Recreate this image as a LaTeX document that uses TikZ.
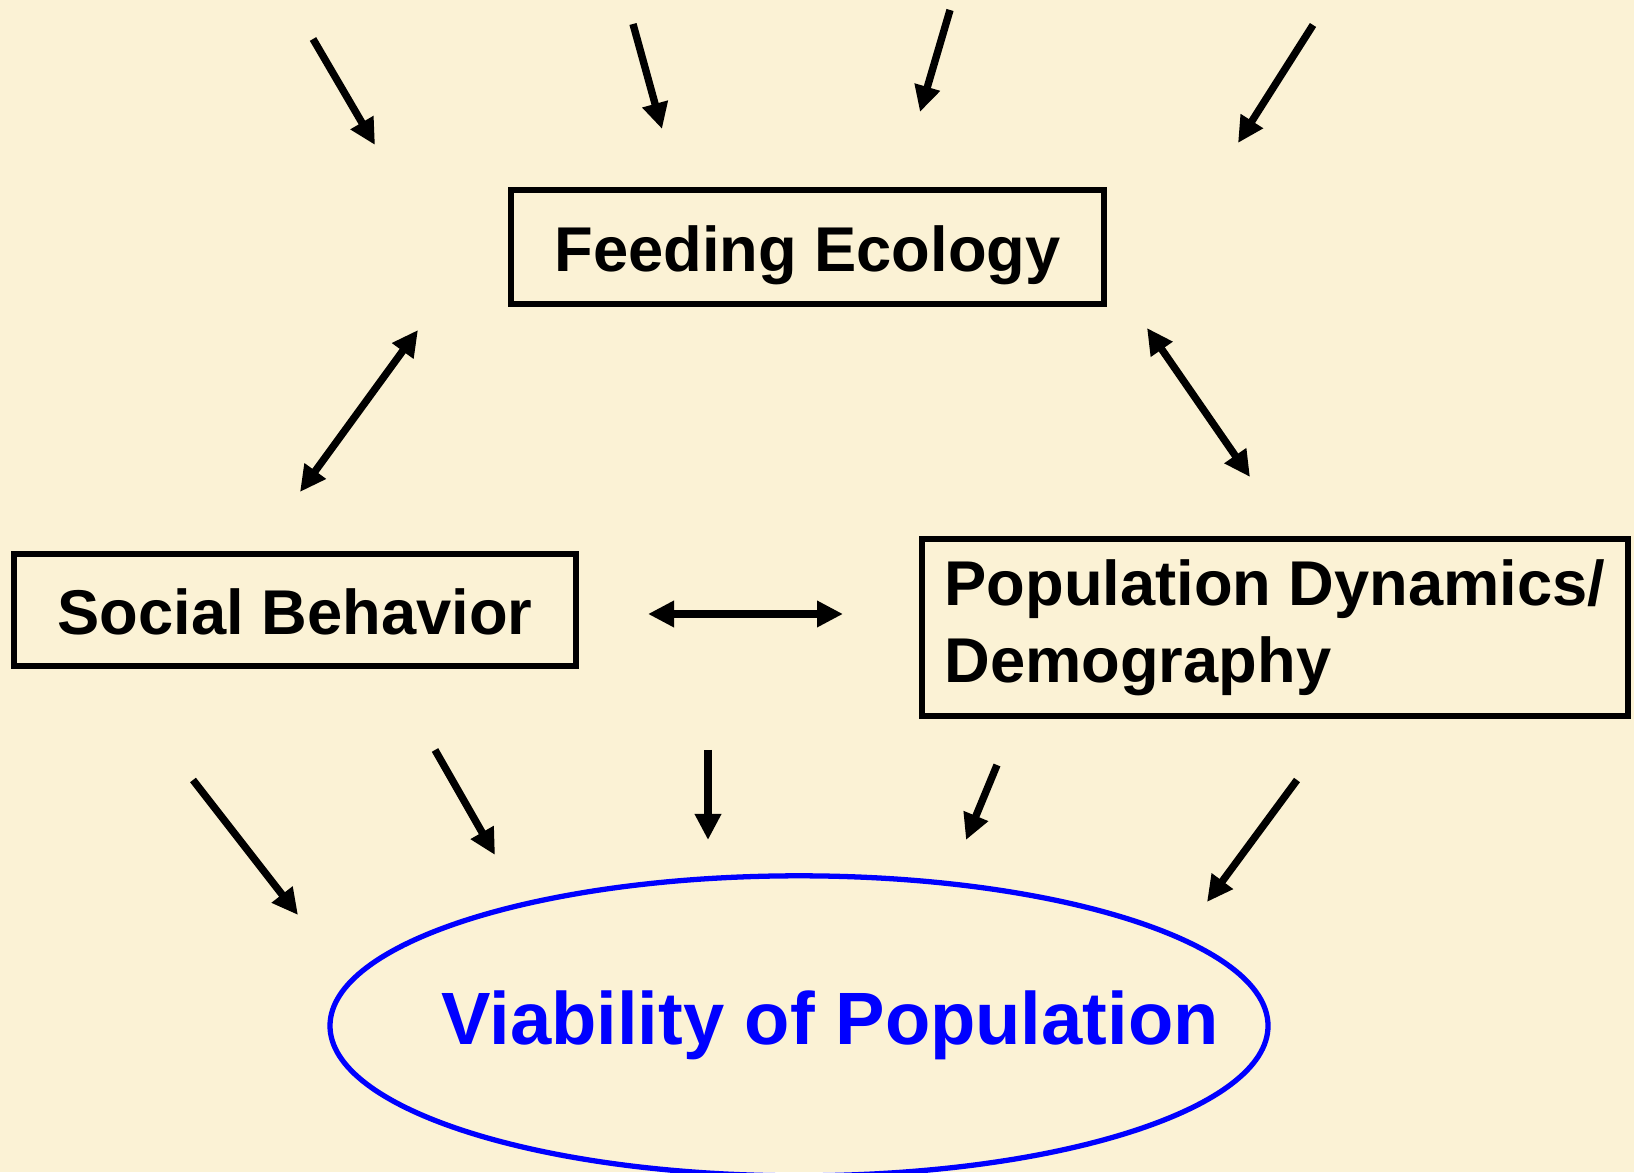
\documentclass[tikz,border=0pt]{standalone}
\usepackage{fontspec}
\setmainfont{Liberation Sans}
\usetikzlibrary{arrows.meta, positioning}

\definecolor{paper}{RGB}{251,242,213}
\definecolor{viab}{RGB}{0,0,255}

\begin{document}
\begin{tikzpicture}[on grid,
        factor/.style={draw, line width=1.6pt, inner sep=0pt, font=\fontsize{18}{22}\selectfont\bfseries},
        arr/.style={-{Triangle[length=0.26cm,width=0.25cm]}, line width=2.1pt},
        dbl/.style={{Triangle[length=0.26cm,width=0.25cm]}-{Triangle[length=0.26cm,width=0.25cm]}, line width=2.1pt}]
        \fill[paper] (0,0) rectangle (16.34,11.72);
        \useasboundingbox (0,0) rectangle (16.34,11.72);

        \node[factor, minimum width=5.93cm, minimum height=1.14cm, text height=0.49cm, text depth=0pt]
                                        (feed)      at (8.075,9.25)                         {Feeding Ecology};
        \node[factor, minimum width=5.62cm, minimum height=1.12cm, text height=0.49cm, text depth=0pt]
                                        (social)    [below left=3.63cm and 5.125cm of feed] {Social Behavior};
        \node[factor, minimum width=7.06cm, minimum height=1.77cm, align=left]
                                        (popdyn)    [below right=3.805cm and 4.675cm of feed] {Population Dynamics/\\Demography};
        \node[anchor=base, text=viab, font=\fontsize{21.1}{26}\selectfont\bfseries]
                                        (viability) at (8.30,1.27)                          {Viability of Population};
        \draw[viab, line width=1.5pt] ([xshift=-0.31cm]viability.center) ellipse [x radius=4.69cm, y radius=1.5cm];

        % free ends of the arrows
        \coordinate (t1s) at (3.13,11.33);  \coordinate (t1e) at (3.75,10.27);
        \coordinate (t2s) at (6.33,11.48);  \coordinate (t2e) at (6.62,10.43);
        \coordinate (t3s) at (9.50,11.62);  \coordinate (t3e) at (9.20,10.60);
        \coordinate (t4s) at (13.13,11.47); \coordinate (t4e) at (12.38,10.29);
        \coordinate (fs1) at (4.18,8.42);   \coordinate (fs2) at (3.00,6.80);
        \coordinate (fp1) at (11.47,8.44);  \coordinate (fp2) at (12.50,6.95);
        \coordinate (sp1) at (6.48,5.58);   \coordinate (sp2) at (8.43,5.58);
        \coordinate (b1s) at (1.93,3.92);   \coordinate (b1e) at (2.98,2.57);
        \coordinate (b2s) at (4.35,4.22);   \coordinate (b2e) at (4.95,3.17);
        \coordinate (b3s) at (7.08,4.22);   \coordinate (b3e) at (7.08,3.32);
        \coordinate (b4s) at (9.97,4.07);   \coordinate (b4e) at (9.66,3.32);
        \coordinate (b5s) at (12.97,3.92);  \coordinate (b5e) at (12.07,2.70);

        \path[arr]  (t1s) edge (t1e)
        (t2s) edge (t2e)
        (t3s) edge (t3e)
        (t4s) edge (t4e)
        (b1s) edge (b1e)
        (b2s) edge (b2e)
        (b3s) edge (b3e)
        (b4s) edge (b4e)
        (b5s) edge (b5e)
        ;
        \path[dbl]  (fs1) edge (fs2)
        (fp1) edge (fp2)
        (sp1) edge (sp2)
        ;
    \end{tikzpicture}
\end{document}
